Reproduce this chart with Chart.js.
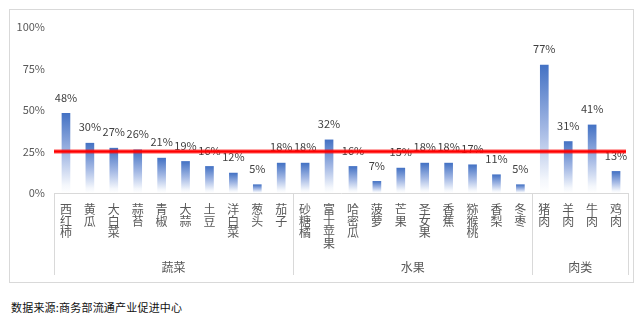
<!DOCTYPE html>
<html>
<head>
<meta charset="utf-8">
<script src="https://cdn.jsdelivr.net/npm/chart.js@4/dist/chart.umd.min.js"></script>
<style>
  html, body { margin: 0; padding: 0; background: #fff; }
  #box { position: absolute; left: 9px; top: 9px; width: 625px; height: 274px; border: 1px solid #d9d9d9; box-sizing: border-box; }
  #box canvas { display: block; }
  #src { position: absolute; left: 11px; top: 299px; font: 11px "Noto Sans CJK SC", sans-serif; color: #111; letter-spacing: 0.2px; }
</style>
</head>
<body>
<div id="box"><canvas id="c"></canvas></div>
<div id="src">数据来源:商务部流通产业促进中心</div>
<script>
// categories grouped as 蔬菜 / 水果 / 肉类
var groups = ['蔬菜', '水果', '肉类'];
var groupSizes = [10, 10, 4];
var categories = [
  '西红柿', '黄瓜', '大白菜', '蒜苔', '青椒', '大蒜', '土豆', '洋白菜', '葱头', '茄子',
  '砂糖橘', '富士苹果', '哈密瓜', '菠萝', '芒果', '圣女果', '香蕉', '猕猴桃', '香梨', '冬枣',
  '猪肉', '羊肉', '牛肉', '鸡肉'
];
var values = [48, 30, 27, 26, 21, 19, 16, 12, 5, 18, 18, 32, 16, 7, 15, 18, 18, 17, 11, 5, 77, 31, 41, 13];
var yTicks = [0, 25, 50, 75, 100];
var threshold = 25;

var FONT = '"Noto Sans CJK SC", "Noto Sans", sans-serif';

function barGradient(c) {
  var chart = c.chart;
  if (!chart.chartArea || c.type !== 'data') { return '#4472c4'; }
  var y = chart.scales.y;
  var top = y.getPixelForValue(values[c.dataIndex]);
  var base = y.getPixelForValue(0);
  var g = chart.ctx.createLinearGradient(0, top, 0, base);
  g.addColorStop(0, '#4472c4');
  g.addColorStop(0.5, '#a3b8e4');
  g.addColorStop(0.9, '#f4f7fc');
  g.addColorStop(1, '#ffffff');
  return g;
}

var decorations = {
  id: 'decorations',
  afterDatasetsDraw: function (chart) {
    var ctx = chart.ctx;
    var meta = chart.getDatasetMeta(0);
    ctx.save();
    ctx.font = '11px ' + FONT;
    ctx.fillStyle = '#404040';
    ctx.textAlign = 'center';
    ctx.textBaseline = 'middle';
    meta.data.forEach(function (bar, i) {
      ctx.fillText(values[i] + '%', bar.x, bar.y - 16);
    });
    ctx.restore();
  },
  afterDraw: function (chart) {
    var ctx = chart.ctx;
    var x = chart.scales.x;
    var area = chart.chartArea;
    var step = x.getPixelForValue(1) - x.getPixelForValue(0);
    // group separators and group names
    ctx.save();
    ctx.strokeStyle = '#d9d9d9';
    ctx.lineWidth = 1;
    ctx.font = '12px ' + FONT;
    ctx.fillStyle = '#595959';
    ctx.textAlign = 'center';
    ctx.textBaseline = 'middle';
    var start = 0;
    var edges = [area.left];
    groupSizes.forEach(function (n, gi) {
      var l = x.getPixelForValue(start) - step / 2;
      var r = x.getPixelForValue(start + n - 1) + step / 2;
      edges.push(r);
      ctx.fillText(groups[gi], (l + r) / 2, area.bottom + 74);
      start += n;
    });
    edges.forEach(function (ex) {
      var px = Math.round(ex) + 0.5;
      ctx.beginPath();
      ctx.moveTo(px, area.bottom);
      ctx.lineTo(px, area.bottom + 82);
      ctx.stroke();
    });
    // threshold line
    var ty = chart.scales.y.getPixelForValue(threshold);
    ctx.strokeStyle = 'rgba(255,0,0,0.35)';
    ctx.lineWidth = 5;
    ctx.beginPath();
    ctx.moveTo(area.left, ty);
    ctx.lineTo(area.right - 2, ty);
    ctx.stroke();
    ctx.strokeStyle = '#ff0000';
    ctx.lineWidth = 2.5;
    ctx.beginPath();
    ctx.moveTo(area.left, ty);
    ctx.lineTo(area.right - 2, ty);
    ctx.stroke();
    ctx.restore();
  }
};

new Chart(document.getElementById('c'), {
  type: 'bar',
  data: {
    labels: categories.map(function (s) { return s.split(''); }),
    datasets: [{
      data: values,
      backgroundColor: barGradient,
      borderWidth: 0,
      barThickness: 8
    }]
  },
  options: {
    responsive: true,
    maintainAspectRatio: false,
    animation: false,
    layout: { padding: { top: 17, right: 5, left: 0, bottom: 0 } },
    plugins: { legend: { display: false }, tooltip: { enabled: false } },
    scales: {
      x: {
        grid: { display: false },
        border: { display: true, color: '#d9d9d9' },
        ticks: {
          autoSkip: false, maxRotation: 0, minRotation: 0, padding: 3,
          color: '#595959', font: { family: FONT, size: 12, lineHeight: 0.95 }
        },
        afterFit: function (s) { s.height = 89; }
      },
      y: {
        min: 0, max: 100,
        grid: { display: false, drawTicks: false },
        border: { display: false },
        afterBuildTicks: function (s) { s.ticks = yTicks.map(function (v) { return { value: v }; }); },
        ticks: {
          padding: 9, color: '#595959',
          font: { family: FONT, size: 11 },
          callback: function (v) { return v + '%'; }
        },
        afterFit: function (s) { s.width = 44; }
      }
    }
  },
  plugins: [decorations]
});
</script>
</body>
</html>
